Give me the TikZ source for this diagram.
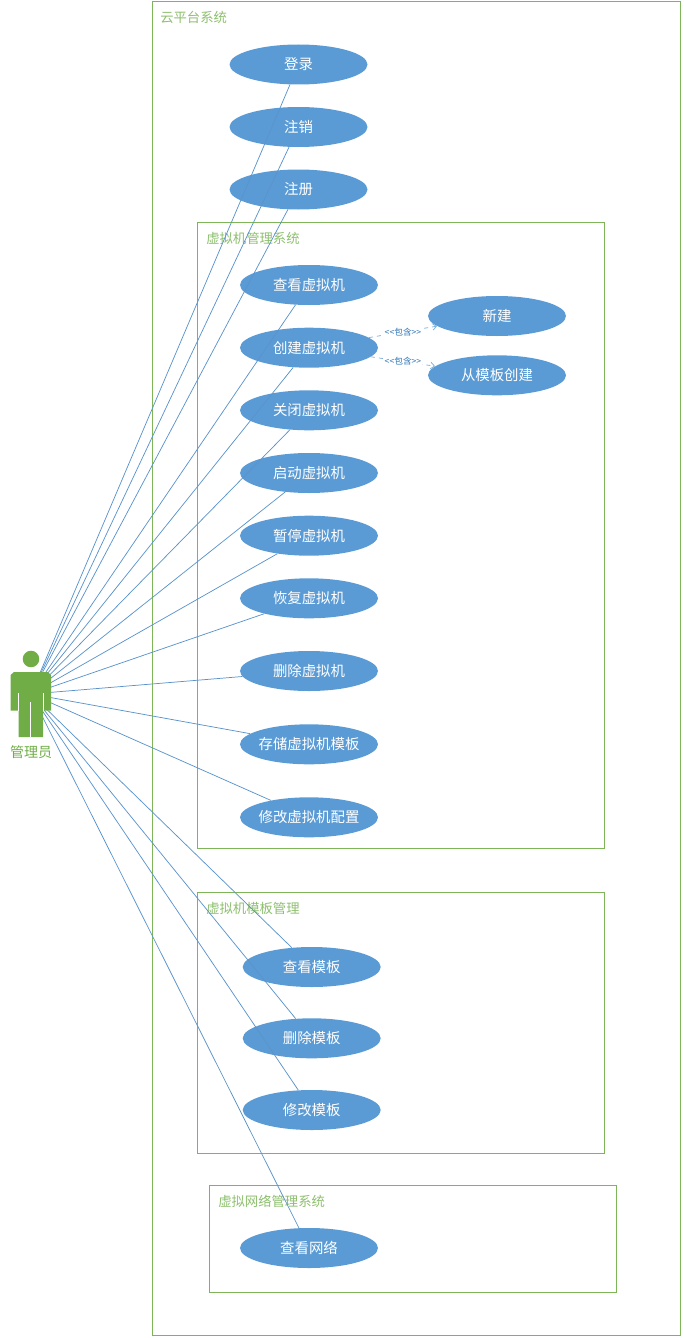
\documentclass[tikz,border=0pt]{standalone}
\usepackage{fontspec}
\setmainfont{Noto Sans CJK SC}
\usetikzlibrary{shapes.geometric,arrows.meta}
\definecolor{casefill}{HTML}{5B9BD5}
\definecolor{caseline}{HTML}{5A93CB}
\definecolor{framegreen}{HTML}{70AD47}
\definecolor{titlegreen}{HTML}{8DBF6E}
\definecolor{inclblue}{HTML}{2E75B6}
\tikzset{
    usecase/.style={ellipse, fill=casefill, text=white, inner ysep=0pt, inner xsep=-12pt,
        minimum width=103.5pt, minimum height=30pt, font=\fontsize{10.8}{12}\selectfont},
    sysframe/.style={draw=framegreen!90, line width=0.6pt, inner sep=0pt},
    systitle/.style={anchor=west, text=titlegreen, inner sep=0pt, font=\fontsize{10}{11}\selectfont},
    assoc/.style={draw=caseline, line width=0.55pt},
    incl/.style={draw=casefill!80, line width=0.55pt, dashed, -{Straight Barb[length=3pt,width=5pt]}},
    incltext/.style={text=inclblue, fill=white, inner sep=0.5pt, font=\fontsize{6.5}{7}\selectfont}
}
\begin{document}
\begin{tikzpicture}[x=0.75pt, y=-0.75pt]
    \useasboundingbox (0, 0) rectangle (683, 1338);

    \node[sysframe, minimum width=396pt, minimum height=1000.5pt] (cloud) at (416.8, 668.6) {};
    \node[sysframe, minimum width=305pt, minimum height=469.5pt] (vmsys) at (401, 535.2) {};
    \node[sysframe, minimum width=305pt, minimum height=195.9pt] (tplsys) at (401, 1022.6) {};
    \node[sysframe, minimum width=305pt, minimum height=80pt] (netsys) at (412.8, 1238.8) {};

    \node[systitle] (cloudtitle) at (160, 17) {云平台系统};
    \node[systitle] (vmtitle) at (206, 238) {虚拟机管理系统};
    \node[systitle] (tpltitle) at (206, 908) {虚拟机模板管理};
    \node[systitle] (nettitle) at (218, 1201) {虚拟网络管理系统};

    \node[usecase] (login) at (298.5, 64.5) {登录};
    \node[usecase] (logout) at (298.5, 127) {注销};
    \node[usecase] (signup) at (298.5, 189.5) {注册};

    \node[usecase] (viewvm) at (309, 285) {查看虚拟机};
    \node[usecase] (createvm) at (309, 347.7) {创建虚拟机};
    \node[usecase] (closevm) at (309, 410.3) {关闭虚拟机};
    \node[usecase] (startvm) at (309, 473) {启动虚拟机};
    \node[usecase] (pausevm) at (309, 535.7) {暂停虚拟机};
    \node[usecase] (resumevm) at (309, 598.3) {恢复虚拟机};
    \node[usecase] (deletevm) at (309, 671) {删除虚拟机};
    \node[usecase] (storevm) at (309, 744.3) {存储虚拟机模板};
    \node[usecase] (editvm) at (309, 817.3) {修改虚拟机配置};

    \node[usecase] (newvm) at (497, 316) {新建};
    \node[usecase] (fromtpl) at (497, 375.3) {从模板创建};

    \node[usecase] (viewtpl) at (311.7, 967) {查看模板};
    \node[usecase] (deltpl) at (311.7, 1038.3) {删除模板};
    \node[usecase] (edittpl) at (311.7, 1110) {修改模板};

    \node[usecase] (viewnet) at (309, 1248) {查看网络};

    \coordinate (admin) at (31, 694);

    \draw[assoc] (admin) -- (login);
    \draw[assoc] (admin) -- (logout);
    \draw[assoc] (admin) -- (signup);
    \draw[assoc] (admin) -- (viewvm);
    \draw[assoc] (admin) -- (createvm);
    \draw[assoc] (admin) -- (closevm);
    \draw[assoc] (admin) -- (startvm);
    \draw[assoc] (admin) -- (pausevm);
    \draw[assoc] (admin) -- (resumevm);
    \draw[assoc] (admin) -- (deletevm);
    \draw[assoc] (admin) -- (storevm);
    \draw[assoc] (admin) -- (editvm);
    \draw[assoc] (admin) -- (viewtpl);
    \draw[assoc] (admin) -- (deltpl);
    \draw[assoc] (admin) -- (edittpl);
    \draw[assoc] (admin) -- (viewnet);

    \draw[incl] (createvm) -- node[incltext] (inclnew) {{<}{<}包含{>}{>}} (newvm);
    \draw[incl] (createvm) -- node[incltext] (incltpl) {{<}{<}包含{>}{>}} (fromtpl);

    % the figure goes over the ends of the lines
    \fill[framegreen] (31, 659) circle (6.2pt);
    \fill[framegreen] (14, 672) -- (48, 672) -- (51, 675) -- (51, 710.5) -- (43, 710.5)
    -- (43, 737) -- (18.5, 737) -- (18.5, 710.5) -- (10.5, 710.5) -- (10.5, 675) -- cycle;
    \draw[white, line width=0.4pt] (18.5, 693) -- (18.5, 710.5);
    \draw[white, line width=0.4pt] (43, 693) -- (43, 710.5);
    \draw[white, line width=0.4pt] (30.7, 702) -- (30.7, 737);
    \node[text=framegreen, inner sep=0pt, font=\fontsize{10.5}{12}\selectfont] (adminname) at (31, 752) {管理员};
\end{tikzpicture}
\end{document}
